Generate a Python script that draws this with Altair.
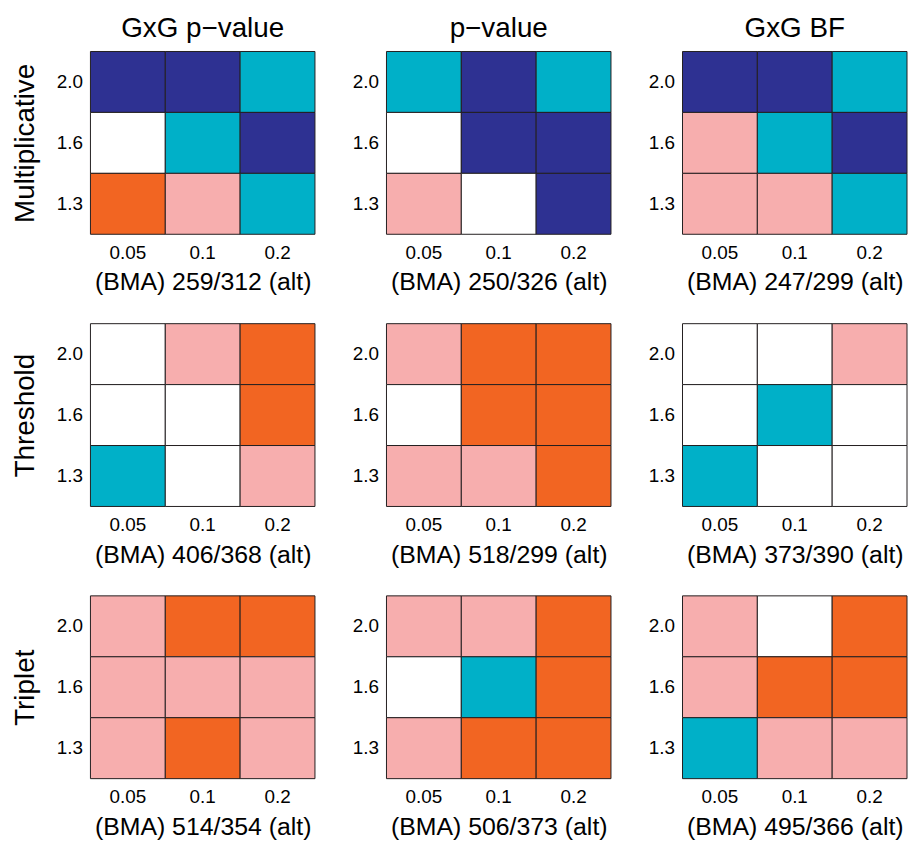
import altair as alt
import pandas as pd

thresholds = ["0.05", "0.1", "0.2"]
effects = ["2.0", "1.6", "1.3"]  # top to bottom
models = ["Multiplicative", "Threshold", "Triplet"]
methods = ["GxG p\u2212value", "p\u2212value", "GxG BF"]

# cell categories, rows 2.0 / 1.6 / 1.3, columns 0.05 / 0.1 / 0.2
# D = dark blue, C = cyan, P = pink, O = orange, W = white
mult_gxg_p = ["D", "D", "C", "W", "C", "D", "O", "P", "C"]
mult_p = ["C", "D", "C", "W", "D", "D", "P", "W", "D"]
mult_bf = ["D", "D", "C", "P", "C", "D", "P", "P", "C"]
thr_gxg_p = ["W", "P", "O", "W", "W", "O", "C", "W", "P"]
thr_p = ["P", "O", "O", "W", "O", "O", "P", "P", "O"]
thr_bf = ["W", "W", "P", "W", "C", "W", "C", "W", "W"]
trip_gxg_p = ["P", "O", "O", "P", "P", "P", "P", "O", "P"]
trip_p = ["P", "P", "O", "W", "C", "O", "P", "O", "O"]
trip_bf = ["P", "W", "O", "P", "O", "O", "C", "P", "P"]

grids = [
    [mult_gxg_p, mult_p, mult_bf],
    [thr_gxg_p, thr_p, thr_bf],
    [trip_gxg_p, trip_p, trip_bf],
]

bma_counts = [[259, 250, 247], [406, 518, 373], [514, 506, 495]]
alt_counts = [[312, 326, 299], [368, 299, 390], [354, 373, 366]]

cat_domain = ["D", "C", "P", "O", "W"]
cat_colors = ["#2e3192", "#00b0c8", "#f7aeae", "#f26522", "#ffffff"]

FONT = "Liberation Sans"


def panel(r, c):
    df = pd.DataFrame({
        "thr": thresholds * 3,
        "eff": [e for e in effects for _ in range(3)],
        "cat": grids[r][c],
    })
    ch = alt.Chart(df).mark_rect(stroke="#231f20", strokeWidth=1).encode(
        x=alt.X("thr:O", sort=thresholds,
                axis=alt.Axis(title=f"(BMA) {bma_counts[r][c]}/{alt_counts[r][c]} (alt)",
                              labelAngle=0, ticks=False, tickSize=0, domain=False,
                              labelPadding=9, titlePadding=8)),
        y=alt.Y("eff:O", sort=effects,
                axis=alt.Axis(title=models[r] if c == 0 else None,
                              ticks=False, tickSize=0, domain=False,
                              labelPadding=8, titlePadding=17)),
        color=alt.Color("cat:N", scale=alt.Scale(domain=cat_domain, range=cat_colors), legend=None),
    ).properties(width=226, height=184)
    if r == 0:
        ch = ch.properties(title=alt.TitleParams(methods[c], fontSize=28, font=FONT,
                                                 fontWeight="normal", anchor="middle",
                                                 frame="group", offset=8, color="#000000"))
    return ch


panels = [panel(r, c) for r in range(3) for c in range(3)]
chart = alt.concat(*panels, columns=3, spacing=alt.RowColnumber(row=90, column=72),
                   bounds="flush").properties(
    padding={"left": 3, "top": 4, "right": 0, "bottom": 0}
).configure_view(stroke=None).configure_axis(
    labelFont=FONT, labelFontSize=19, labelColor="#000000",
    titleFont=FONT, titleFontWeight="normal", titleColor="#000000",
).configure_axisX(titleFontSize=25).configure_axisY(titleFontSize=28)

chart.save("out.html", embed_options={"renderer": "svg", "actions": False})
